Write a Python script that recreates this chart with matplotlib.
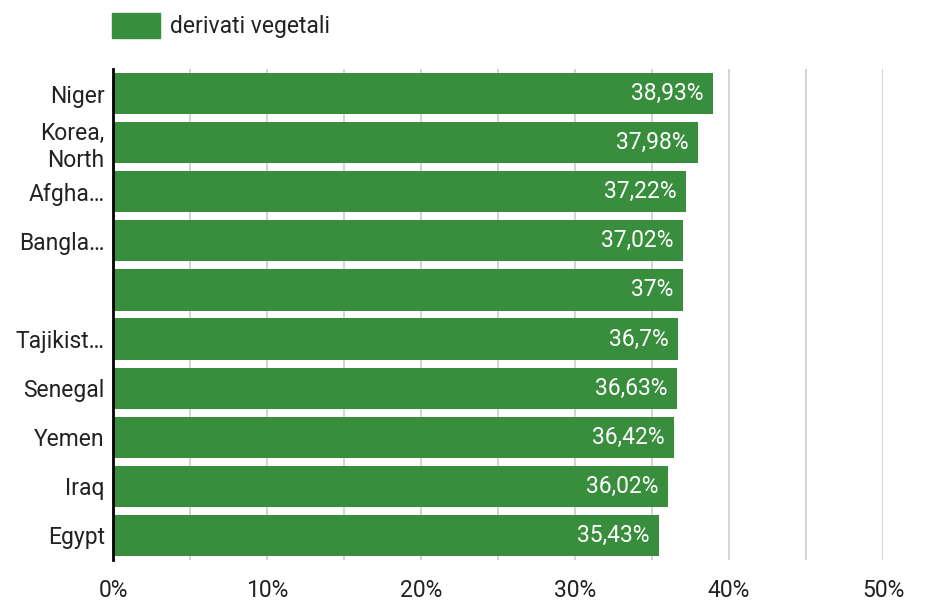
import matplotlib
matplotlib.use('Agg')
import matplotlib.pyplot as plt
from matplotlib.patches import Rectangle

plt.rcParams['font.family'] = ['Roboto', 'DejaVu Sans']

# data
countries = ['Niger', 'Korea,\nNorth', 'Afgha…', 'Bangla…', '', 'Tajikist…',
             'Senegal', 'Yemen', 'Iraq', 'Egypt']
values = [38.93, 37.98, 37.22, 37.02, 37.0, 36.7, 36.63, 36.42, 36.02, 35.43]
value_labels = ['38,93%', '37,98%', '37,22%', '37,02%', '37%', '36,7%',
                '36,63%', '36,42%', '36,02%', '35,43%']
xticks = [0, 10, 20, 30, 40, 50]
xtick_labels = ['0%', '10%', '20%', '30%', '40%', '50%']
series_name = 'derivati vegetali'

green = '#388e3c'
fs = 16.5

fig = plt.figure(figsize=(9.27, 6.05), dpi=100)
ax = fig.add_axes([113/927, 1 - 560/605, 770/927, 491/605])

pos = list(range(len(values)))
ax.barh(pos, values, height=0.84, color=green, zorder=2)
ax.set_ylim(len(values) - 0.5, -0.5)
ax.set_xlim(0, 50)

for i, (v, lab) in enumerate(zip(values, value_labels)):
    ax.text(v - 0.6, i, lab, ha='right', va='center', color='white',
            fontsize=fs, zorder=3)

ax.set_xticks(xticks)
ax.set_xticklabels(xtick_labels, fontsize=fs, color='#222222')
ax.set_xticks([5, 15, 25, 35, 45], minor=True)
ax.set_yticks(pos)
ax.set_yticklabels(countries, fontsize=fs, color='#222222', linespacing=1.2)
ax.tick_params(axis='both', which='both', length=0)
ax.tick_params(axis='x', pad=14)
ax.tick_params(axis='y', pad=6)

ax.grid(axis='x', which='both', color='#cccccc', linewidth=1.2, zorder=0)
for s in ['top', 'right', 'bottom']:
    ax.spines[s].set_visible(False)
ax.spines['left'].set_linewidth(2)
ax.spines['left'].set_color('black')
ax.spines['left'].set_zorder(4)

# legend
fig.patches.append(Rectangle((112/927, 1 - 38/605), 48/927, 25/605,
                             transform=fig.transFigure, color=green))
fig.text(170/927, 1 - 26/605, series_name, fontsize=fs, va='center',
         color='#222222')

fig.savefig('out.png', dpi=100)
